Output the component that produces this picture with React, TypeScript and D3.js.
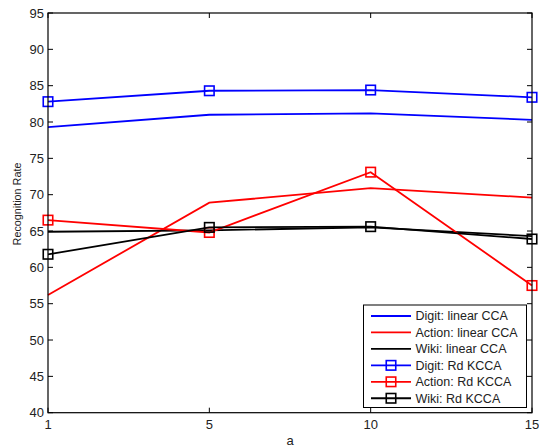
import React from "react";
import * as d3 from "d3";

const categories = ["1", "5", "10", "15"];
const yTicks = [40, 45, 50, 55, 60, 65, 70, 75, 80, 85, 90, 95];
const digitLinear = [79.3, 81.0, 81.2, 80.3];
const actionLinear = [56.2, 68.9, 70.9, 69.6];
const wikiLinear = [64.9, 65.1, 65.5, 64.3];
const digitRd = [82.8, 84.3, 84.4, 83.4];
const actionRd = [66.5, 64.8, 73.1, 57.5];
const wikiRd = [61.8, 65.5, 65.6, 63.9];

const seriesNames = [
  "Digit: linear CCA",
  "Action: linear CCA",
  "Wiki: linear CCA",
  "Digit: Rd KCCA",
  "Action: Rd KCCA",
  "Wiki: Rd KCCA",
];

export default function App() {
  const W = 539, H = 447;
  const left = 48, right = 532, top = 13, bottom = 412.7;
  const x = d3.scalePoint<string>().domain(categories).range([left, right]);
  const y = d3.scaleLinear().domain([40, 95]).range([bottom, top]);
  const line = d3
    .line<number>()
    .x((_, i) => x(categories[i]) as number)
    .y((v) => y(v));

  const series = [
    { name: seriesNames[0], values: digitLinear, color: "#0000ff", marker: false },
    { name: seriesNames[1], values: actionLinear, color: "#ff0000", marker: false },
    { name: seriesNames[2], values: wikiLinear, color: "#000000", marker: false },
    { name: seriesNames[3], values: digitRd, color: "#0000ff", marker: true },
    { name: seriesNames[4], values: actionRd, color: "#ff0000", marker: true },
    { name: seriesNames[5], values: wikiRd, color: "#000000", marker: true },
  ];

  const tl = 5;
  const font = "Liberation Sans, Arial, Helvetica, sans-serif";
  const ms = 9.5;

  const lgLeft = 363.5, lgTop = 305, lgRight = 526.5, lgBottom = 407.5;
  const rowY = (i: number) => 316 + i * 16.45;

  return (
    <svg
      width={W}
      height={H}
      style={{ position: "absolute", left: 0, top: 0, background: "#fff" }}
      fontFamily={font}
    >
      <rect x={0} y={0} width={W} height={H} fill="#fff" />
      {yTicks.map((t) => (
        <g key={"y" + t}>
          <line x1={left} x2={left + tl} y1={y(t)} y2={y(t)} stroke="#000" strokeWidth={1} />
          <line x1={right} x2={right - tl} y1={y(t)} y2={y(t)} stroke="#000" strokeWidth={1} />
          <text x={left - 4} y={y(t)} dy="0.35em" textAnchor="end" fontSize={13} fill="#222">
            {t}
          </text>
        </g>
      ))}
      {categories.map((c) => (
        <g key={"x" + c}>
          <line x1={x(c)} x2={x(c)} y1={bottom} y2={bottom - tl} stroke="#000" strokeWidth={1} />
          <line x1={x(c)} x2={x(c)} y1={top} y2={top + tl} stroke="#000" strokeWidth={1} />
          <text x={x(c)} y={bottom + 16} textAnchor="middle" fontSize={13} fill="#222">
            {c}
          </text>
        </g>
      ))}
      {series.map((s) => (
        <g key={s.name}>
          <path d={line(s.values) || ""} fill="none" stroke={s.color} strokeWidth={1.8} />
          {s.marker &&
            s.values.map((v, i) => (
              <rect
                key={i}
                x={(x(categories[i]) as number) - ms / 2}
                y={y(v) - ms / 2}
                width={ms}
                height={ms}
                fill="none"
                stroke={s.color}
                strokeWidth={1.6}
              />
            ))}
        </g>
      ))}
      <rect x={left} y={top} width={right - left} height={bottom - top} fill="none" stroke="#000" strokeWidth={1.2} />
      <text x={290} y={445} textAnchor="middle" fontSize={13} fill="#222">
        a
      </text>
      <text
        transform={`translate(20.5, 204) rotate(-90)`}
        textAnchor="middle"
        fontSize={10.8}
        fill="#222"
      >
        Recognition Rate
      </text>
      <rect x={lgLeft} y={lgTop} width={lgRight - lgLeft} height={lgBottom - lgTop} fill="#fff" stroke="#000" strokeWidth={1} />
      {series.map((s, i) => (
        <g key={"lg" + i}>
          <line x1={371} x2={411} y1={rowY(i)} y2={rowY(i)} stroke={s.color} strokeWidth={1.8} />
          {s.marker && (
            <rect x={391 - ms / 2} y={rowY(i) - ms / 2} width={ms} height={ms} fill="none" stroke={s.color} strokeWidth={1.6} />
          )}
          <text x={415.5} y={rowY(i)} dy="0.35em" fontSize={12.5} fill="#222">
            {s.name}
          </text>
        </g>
      ))}
    </svg>
  );
}
